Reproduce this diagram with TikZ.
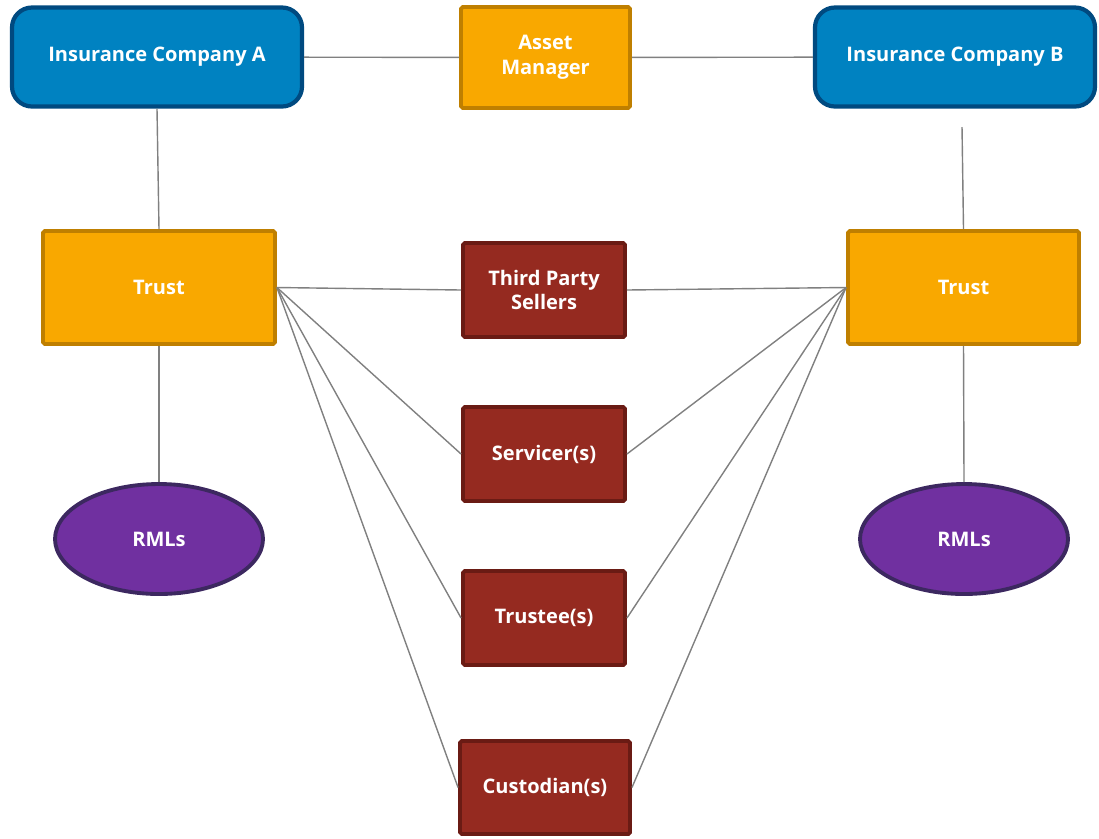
\documentclass[tikz,border=0pt]{standalone}
\usepackage{fontspec}
\setmainfont{Open Sans}
\usetikzlibrary{shapes.geometric}

\definecolor{coblue}{HTML}{0082C1}
\definecolor{coblueline}{HTML}{004A80}
\definecolor{trorange}{HTML}{F9A800}
\definecolor{trorangeline}{HTML}{BF7F00}
\definecolor{pared}{HTML}{952A20}
\definecolor{paredline}{HTML}{6A1B14}
\definecolor{rmlpurple}{HTML}{7030A0}
\definecolor{rmlpurpleline}{HTML}{3C2860}
\definecolor{linkgray}{HTML}{808080}

\begin{document}
\begin{tikzpicture}[
    every node/.style={font=\fontsize{11.4}{14}\selectfont\bfseries, text=white, align=center, inner sep=0pt},
    company/.style={draw=coblueline, fill=coblue, line width=2.4pt, rounded corners=0.4cm, minimum height=1.98cm},
    trustbox/.style={draw=trorangeline, fill=trorange, line width=2.2pt, rounded corners=1pt},
    party/.style={draw=paredline, fill=pared, line width=2.2pt, rounded corners=1pt, minimum width=3.24cm, minimum height=1.88cm},
    loans/.style={ellipse, draw=rmlpurpleline, fill=rmlpurple, line width=2.2pt, minimum width=4.16cm, minimum height=2.2cm},
    link/.style={draw=linkgray, line width=0.8pt}
  ]
  \useasboundingbox (0,0) rectangle (21.98,-16.76);

  % top row
  \node (ICA) [company, minimum width=5.8cm] at (3.14,-1.14) {Insurance Company A};
  \node (AM)  [trustbox, minimum width=3.38cm, minimum height=2.02cm] at (10.91,-1.15) {Asset\\Manager};
  \node (ICB) [company, minimum width=5.6cm] at (19.10,-1.14) {Insurance Company B};

  % trusts
  \node (TA) [trustbox, minimum width=4.64cm, minimum height=2.26cm] at (3.18,-5.75) {Trust};
  \node (TB) [trustbox, minimum width=4.62cm, minimum height=2.26cm] at (19.27,-5.75) {Trust};

  % third parties in the middle
  \node (TPS)  [party] at (10.88,-5.80)  {Third Party\\Sellers};
  \node (SERV) [party] at (10.88,-9.08)  {Servicer(s)};
  \node (TRE)  [party] at (10.88,-12.36) {Trustee(s)};
  \node (CUST) [party, minimum width=3.40cm, minimum height=1.86cm] at (10.90,-15.75) {Custodian(s)};

  % loans
  \node (RMLA) [loans] at (3.18,-10.78)  {RMLs};
  \node (RMLB) [loans] at (19.28,-10.78) {RMLs};

  \coordinate (ICBdrop) at (19.24,-2.54);

  % connectors
  \path [link] (ICA) edge (AM);
  \path [link] (AM) edge (ICB);
  \path [link] (ICA.south) edge (TA.north);
  \path [link] (ICBdrop) edge (TB.north);
  \path [link] (TA.south) edge (RMLA.north);
  \path [link] (TB.south) edge (RMLB.north);

  \foreach \p in {TPS,SERV,TRE,CUST} {
    \path [link] (TA.east) edge (\p.west);
    \path [link] (TB.west) edge (\p.east);
  }
\end{tikzpicture}
\end{document}
